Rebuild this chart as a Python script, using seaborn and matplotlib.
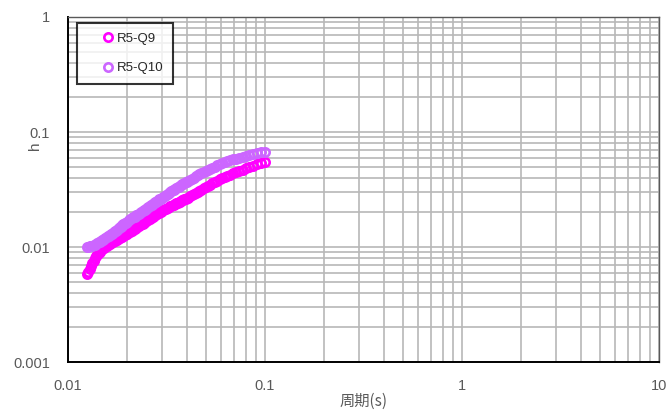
import matplotlib
matplotlib.use("Agg")
import matplotlib.pyplot as plt
from matplotlib.ticker import FixedLocator, FixedFormatter, NullFormatter
import seaborn as sns

# period (s)
period = [
    0.0125, 0.0127, 0.0129, 0.0131, 0.0133, 0.0135, 0.0137, 0.0139, 0.0141, 0.0143,
    0.0145, 0.0147, 0.0149, 0.0151, 0.0153, 0.0155, 0.0157, 0.0159, 0.0161, 0.0163,
    0.0165, 0.0167, 0.0169, 0.0171, 0.0173, 0.0175, 0.0177, 0.0179, 0.0181, 0.0183,
    0.0185, 0.0187, 0.0189, 0.0191, 0.0193, 0.0195, 0.0197,
    0.0200, 0.0204, 0.0207, 0.0211, 0.0214, 0.0218, 0.0221, 0.0225, 0.0228, 0.0232,
    0.0235, 0.0239, 0.0242, 0.0246, 0.0249, 0.0253, 0.0256, 0.0260, 0.0263, 0.0267,
    0.0270, 0.0274, 0.0277, 0.0281, 0.0284, 0.0288, 0.0291, 0.0295, 0.0300,
    0.0305, 0.0310, 0.0315, 0.0320, 0.0325, 0.0330, 0.0335, 0.0340, 0.0345, 0.0350,
    0.0355, 0.0360, 0.0365, 0.0370, 0.0375, 0.0380, 0.0385, 0.0390, 0.0395, 0.0400,
    0.0405, 0.0415, 0.0425, 0.0435, 0.0445,
    0.0455, 0.0465, 0.0476, 0.0488, 0.0500, 0.0513, 0.0526, 0.0541, 0.0556, 0.0571,
    0.0588, 0.0606, 0.0625, 0.0645, 0.0667, 0.0690, 0.0714, 0.0741, 0.0769, 0.0800,
    0.0833, 0.0870, 0.0909, 0.0952, 0.1000,
]

h_q9 = [
    0.0058, 0.0061, 0.0064, 0.0068, 0.0072, 0.0076, 0.0080, 0.0083, 0.0086, 0.0089,
    0.0091, 0.0094, 0.0096, 0.0098, 0.0099, 0.0101, 0.0103, 0.0105, 0.0106, 0.0107,
    0.0108, 0.0110, 0.0111, 0.0112, 0.0113, 0.0115, 0.0116, 0.0118, 0.0119, 0.0120,
    0.0121, 0.0123, 0.0124, 0.0125, 0.0126, 0.0128, 0.0129,
    0.0131, 0.0134, 0.0136, 0.0139, 0.0141, 0.0144, 0.0147, 0.0150, 0.0152, 0.0155,
    0.0157, 0.0160, 0.0162, 0.0165, 0.0167, 0.0170, 0.0173, 0.0176, 0.0178, 0.0181,
    0.0184, 0.0187, 0.0190, 0.0192, 0.0195, 0.0198, 0.0200, 0.0203, 0.0207,
    0.0210, 0.0213, 0.0216, 0.0219, 0.0222, 0.0225, 0.0228, 0.0231, 0.0234, 0.0237,
    0.0240, 0.0243, 0.0245, 0.0248, 0.0251, 0.0254, 0.0257, 0.0260, 0.0262, 0.0265,
    0.0268, 0.0275, 0.0282, 0.0288, 0.0295,
    0.0301, 0.0308, 0.0316, 0.0324, 0.0332, 0.0340, 0.0348, 0.0358, 0.0367, 0.0377,
    0.0388, 0.0398, 0.0407, 0.0417, 0.0427, 0.0438, 0.0449, 0.0459, 0.0471, 0.0483,
    0.0495, 0.0509, 0.0522, 0.0533, 0.0545,
]

h_q10 = [
    0.0100, 0.0101, 0.0102, 0.0103, 0.0103, 0.0104, 0.0105, 0.0107, 0.0108, 0.0110,
    0.0111, 0.0113, 0.0114, 0.0116, 0.0118, 0.0120, 0.0122, 0.0124, 0.0125, 0.0127,
    0.0129, 0.0131, 0.0133, 0.0135, 0.0137, 0.0139, 0.0141, 0.0144, 0.0146, 0.0148,
    0.0150, 0.0152, 0.0154, 0.0157, 0.0159, 0.0161, 0.0163,
    0.0166, 0.0170, 0.0174, 0.0177, 0.0181, 0.0184, 0.0188, 0.0191, 0.0194, 0.0197,
    0.0201, 0.0204, 0.0208, 0.0211, 0.0215, 0.0218, 0.0222, 0.0226, 0.0230, 0.0233,
    0.0237, 0.0240, 0.0244, 0.0248, 0.0252, 0.0255, 0.0259, 0.0263, 0.0268,
    0.0273, 0.0279, 0.0284, 0.0289, 0.0294, 0.0299, 0.0304, 0.0310, 0.0315, 0.0320,
    0.0325, 0.0330, 0.0335, 0.0340, 0.0345, 0.0350, 0.0355, 0.0360, 0.0365, 0.0370,
    0.0375, 0.0384, 0.0393, 0.0402, 0.0411,
    0.0420, 0.0429, 0.0439, 0.0451, 0.0462, 0.0471, 0.0480, 0.0491, 0.0501, 0.0512,
    0.0524, 0.0535, 0.0545, 0.0555, 0.0566, 0.0577, 0.0588, 0.0598, 0.0610, 0.0622,
    0.0632, 0.0643, 0.0654, 0.0664, 0.0675,
]

series_names = ["R5-Q9", "R5-Q10"]
series_colors = ["#FF00FF", "#CC66FF"]

x_ticks = [0.01, 0.1, 1, 10]
x_tick_labels = ["0.01", "0.1", "1", "10"]
y_ticks = [0.001, 0.01, 0.1, 1]
y_tick_labels = ["0.001", "0.01", "0.1", "1"]

sns.set_style("white")
plt.rcParams["font.family"] = ["Liberation Sans", "DejaVu Sans"]

fig = plt.figure(figsize=(6.68, 4.11), dpi=100)
ax = fig.add_axes([68 / 668, 1 - 362 / 411, 591 / 668, 345 / 411])
ax.set_xscale("log")
ax.set_yscale("log")

for vals, name, col in zip([h_q9, h_q10], series_names, series_colors):
    sns.lineplot(
        x=period, y=vals, ax=ax,
        marker="o", linestyle="", markersize=6.0,
        markerfacecolor="none", markeredgecolor=col, markeredgewidth=1.9,
        color=col, label=name,
    )

ax.set_xlim(0.01, 10)
ax.set_ylim(0.001, 1)

ax.xaxis.set_major_locator(FixedLocator(x_ticks))
ax.xaxis.set_major_formatter(FixedFormatter(x_tick_labels))
ax.yaxis.set_major_locator(FixedLocator(y_ticks))
ax.yaxis.set_major_formatter(FixedFormatter(y_tick_labels))
ax.xaxis.set_minor_formatter(NullFormatter())
ax.yaxis.set_minor_formatter(NullFormatter())

ax.grid(which="both", color="#B8B8B8", linewidth=1.2)
ax.set_axisbelow(True)
ax.tick_params(which="both", length=0, labelsize=10.5, labelcolor="#595959")
ax.tick_params(axis="x", pad=12)
ax.tick_params(axis="y", pad=13)

for side in ["left", "bottom"]:
    ax.spines[side].set_color("black")
    ax.spines[side].set_linewidth(1.4)
for side in ["top", "right"]:
    ax.spines[side].set_color("#595959")
    ax.spines[side].set_linewidth(1.0)

ax.set_xlabel("周期(s)", family=["Noto Sans CJK JP", "DejaVu Sans"],
              fontsize=11, color="#595959", labelpad=0)
ax.set_ylabel("h", fontsize=11, color="#595959")
ax.yaxis.set_label_coords(-0.044, 0.626)

leg = ax.legend(
    loc="upper left", bbox_to_anchor=(0.015, 0.983), borderaxespad=0,
    frameon=True, fancybox=False, edgecolor="black", facecolor="white",
    fontsize=9.5, handlelength=3.2, handletextpad=-0.95,
    labelspacing=1.3, borderpad=0.75,
)
leg.get_frame().set_linewidth(1.5)
for t in leg.get_texts():
    t.set_color("#262626")

fig.savefig("out.png", dpi=100)
